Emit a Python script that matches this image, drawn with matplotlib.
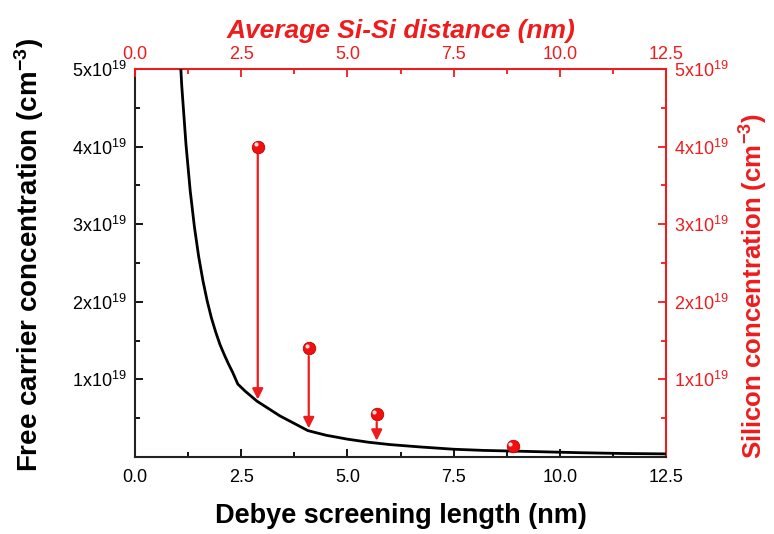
import matplotlib
matplotlib.use("Agg")
import matplotlib.pyplot as plt
from matplotlib.transforms import ScaledTranslation

plt.rcParams["font.family"] = ["Liberation Sans", "DejaVu Sans"]
plt.rcParams["mathtext.fontset"] = "custom"
plt.rcParams["mathtext.rm"] = "Liberation Sans"
plt.rcParams["mathtext.bf"] = "Liberation Sans:bold"
plt.rcParams["mathtext.default"] = "regular"

RED = "#ee1c1c"

# free carrier concentration vs Debye screening length (units of 1e19 cm^-3)
debye_nm = [0.95, 1.0, 1.1, 1.2, 1.3, 1.4, 1.5, 1.6, 1.7, 1.8, 1.9, 2.0,
            2.1, 2.2, 2.3, 2.42, 2.59, 2.87, 3.41, 4.07, 4.5, 5.0, 5.5, 6.0,
            6.7, 7.5, 8.2, 9.0, 10.5, 11.5, 12.5]
carrier = [6.4, 5.8, 4.79, 4.03, 3.43, 2.96, 2.58, 2.27, 2.01, 1.79, 1.61,
           1.45, 1.32, 1.20, 1.09, 0.94, 0.85, 0.72, 0.53, 0.34, 0.28, 0.23,
           0.19, 0.16, 0.13, 0.10, 0.085, 0.075, 0.055, 0.045, 0.04]

# silicon concentration vs average Si-Si distance
si_dist = [2.89, 4.09, 5.69, 8.89]
si_conc = [4.0, 1.40, 0.55, 0.14]
# where each arrow lands on the carrier curve (None = no arrow)
arrow_to = [0.74, 0.37, 0.21, None]

y_ticks = [1, 2, 3, 4, 5]
y_labels = [f"{v}x10$^{{19}}$" for v in y_ticks]
x_ticks = [0.0, 2.5, 5.0, 7.5, 10.0, 12.5]

fig = plt.figure(figsize=(7.74, 5.34), dpi=100)
pos = [0.1744, 0.1442, 0.6861, 0.7266]
ax = fig.add_axes(pos)
ax2 = fig.add_axes(pos, frameon=False)

for a in (ax, ax2):
    a.set_xlim(0, 12.5)
    a.set_ylim(0, 5)
    a.set_xticks(x_ticks)
    a.set_xticks([1.25 + 2.5 * i for i in range(5)], minor=True)
    a.set_yticks(y_ticks)
    a.set_yticks([0.5 + i for i in range(5)], minor=True)
    a.set_yticklabels(y_labels)
    a.set_xticklabels([f"{v:.1f}" for v in x_ticks])
    a.tick_params(which="major", direction="in", length=6, width=1.3, labelsize=13)
    a.tick_params(which="minor", direction="in", length=3.5, width=1.3)

# main axes: bottom / left, black
for s in ("bottom", "left"):
    ax.spines[s].set_linewidth(1.5)
    ax.spines[s].set_color("#222222")
for s in ("top", "right"):
    ax.spines[s].set_linewidth(1.5)
    ax.spines[s].set_color(RED)
ax.tick_params(top=False, right=False)
ax.tick_params(axis="x", pad=9)
ax.tick_params(axis="y", pad=6)
ax.set_xlabel("Debye screening length (nm)", fontsize=19.5, fontweight="bold")
ax.set_ylabel("Free carrier concentration (cm$^{\\mathbf{-3}}$)", fontsize=20,
              fontweight="bold")
ax.xaxis.set_label_coords(0.5, -0.118)
ax.yaxis.set_label_coords(-0.168, 0.52)

# secondary axes: top / right, red
ax2.xaxis.tick_top()
ax2.yaxis.tick_right()
ax2.xaxis.set_label_position("top")
ax2.yaxis.set_label_position("right")
ax2.tick_params(colors=RED, which="both", pad=4)
ax2.tick_params(axis="y", pad=6)
ax2.set_xlabel("Average Si-Si distance (nm)", fontsize=19, fontweight="bold",
               fontstyle="italic", color=RED, labelpad=6)
ax2.set_ylabel("Silicon concentration (cm$^{\\mathbf{-3}}$)", fontsize=18.5,
               fontweight="bold", color=RED)
ax2.yaxis.set_label_coords(1.135, 0.44)

ax.plot(debye_nm, carrier, color="black", lw=2, clip_on=True, zorder=3)

for x, y, t in zip(si_dist, si_conc, arrow_to):
    if t is None:
        continue
    ax2.annotate("", xy=(x, t), xytext=(x, y - 0.1),
                 arrowprops=dict(arrowstyle="-|>", color=RED, lw=1.6,
                                 mutation_scale=16, shrinkA=0, shrinkB=0))

ax2.plot(si_dist, si_conc, "o", color="#f01010", ms=9, mec="#c00000", mew=0.6,
         ls="none", zorder=5, clip_on=False)
shift = ScaledTranslation(-1.6 / 72, 1.6 / 72, fig.dpi_scale_trans)
ax2.plot(si_dist, si_conc, "o", color="white", ms=3, alpha=0.85, mew=0,
         ls="none", zorder=6, clip_on=False, transform=ax2.transData + shift)

fig.savefig("out.png", dpi=100)
